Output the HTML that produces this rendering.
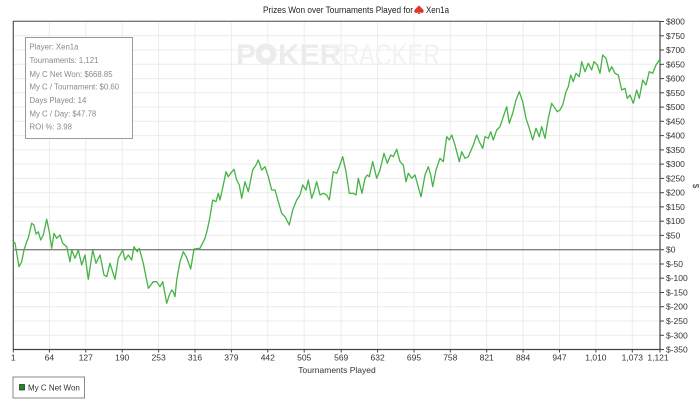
<!DOCTYPE html>
<html><head><meta charset="utf-8"><style>
html,body{margin:0;padding:0;background:#fff;}
svg{display:block;font-family:"Liberation Sans",Arial,sans-serif;}
</style></head><body>
<svg width="700" height="407" viewBox="0 0 700 407" xmlns="http://www.w3.org/2000/svg">
<rect width="700" height="407" fill="#fff"/>
<!-- title -->
<text x="263" y="13" font-size="9.6" fill="#222" textLength="150" lengthAdjust="spacingAndGlyphs">Prizes Won over Tournaments Played for</text>
<path d="M419,5.5 C416,8.5 413.5,10 414.5,12 C415.5,13.5 417.5,13 418.5,12 L417.8,14 L420.2,14 L419.5,12 C420.5,13 422.5,13.5 423.5,12 C424.5,10 422,8.5 419,5.5 Z" fill="#d83a2a"/>
<text x="426" y="13" font-size="9.6" fill="#222" textLength="23" lengthAdjust="spacingAndGlyphs">Xen1a</text>
<!-- gridlines -->
<g stroke="#ececec" stroke-width="1">
<line x1="13" x2="660" y1="35.8" y2="35.8"/><line x1="13" x2="660" y1="50" y2="50"/><line x1="13" x2="660" y1="64.3" y2="64.3"/><line x1="13" x2="660" y1="78.6" y2="78.6"/><line x1="13" x2="660" y1="92.8" y2="92.8"/><line x1="13" x2="660" y1="107.1" y2="107.1"/><line x1="13" x2="660" y1="121.3" y2="121.3"/><line x1="13" x2="660" y1="135.6" y2="135.6"/><line x1="13" x2="660" y1="149.9" y2="149.9"/><line x1="13" x2="660" y1="164.1" y2="164.1"/><line x1="13" x2="660" y1="178.4" y2="178.4"/><line x1="13" x2="660" y1="192.7" y2="192.7"/><line x1="13" x2="660" y1="206.9" y2="206.9"/><line x1="13" x2="660" y1="221.2" y2="221.2"/><line x1="13" x2="660" y1="235.4" y2="235.4"/><line x1="13" x2="660" y1="264" y2="264"/><line x1="13" x2="660" y1="278.2" y2="278.2"/><line x1="13" x2="660" y1="292.5" y2="292.5"/><line x1="13" x2="660" y1="306.7" y2="306.7"/><line x1="13" x2="660" y1="321" y2="321"/><line x1="13" x2="660" y1="335.3" y2="335.3"/>
<line y1="21" y2="349.5" x1="49.4" x2="49.4"/><line y1="21" y2="349.5" x1="85.8" x2="85.8"/><line y1="21" y2="349.5" x1="122.2" x2="122.2"/><line y1="21" y2="349.5" x1="158.6" x2="158.6"/><line y1="21" y2="349.5" x1="195" x2="195"/><line y1="21" y2="349.5" x1="231.4" x2="231.4"/><line y1="21" y2="349.5" x1="267.8" x2="267.8"/><line y1="21" y2="349.5" x1="304.2" x2="304.2"/><line y1="21" y2="349.5" x1="341.2" x2="341.2"/><line y1="21" y2="349.5" x1="377.6" x2="377.6"/><line y1="21" y2="349.5" x1="414" x2="414"/><line y1="21" y2="349.5" x1="450.3" x2="450.3"/><line y1="21" y2="349.5" x1="486.7" x2="486.7"/><line y1="21" y2="349.5" x1="523.1" x2="523.1"/><line y1="21" y2="349.5" x1="559.5" x2="559.5"/><line y1="21" y2="349.5" x1="595.9" x2="595.9"/><line y1="21" y2="349.5" x1="632.3" x2="632.3"/>
</g>
<!-- watermark -->
<text x="236" y="65" font-size="30" font-weight="bold" fill="#ececec">P</text>
<circle cx="266" cy="54" r="10.5" fill="#ececec"/>
<circle cx="266" cy="54" r="4.5" fill="#fff"/>
<text x="278" y="65" font-size="30" font-weight="bold" fill="#ececec">KER</text>
<text x="328" y="65" font-size="30" fill="#f2f2f2" textLength="112" lengthAdjust="spacingAndGlyphs">TRACKER</text>
<!-- frame -->
<line x1="13" y1="21.3" x2="660" y2="21.3" stroke="#777" stroke-width="1.3"/>
<line x1="13.3" y1="21" x2="13.3" y2="349.5" stroke="#555" stroke-width="1.2"/>
<line x1="13" y1="349.5" x2="660" y2="349.5" stroke="#444" stroke-width="1.2"/>
<line x1="660" y1="21" x2="660" y2="349.5" stroke="#444" stroke-width="1.2"/>
<!-- zero line -->
<line x1="13" y1="249.7" x2="660" y2="249.7" stroke="#808080" stroke-width="1.3"/>
<!-- stats box -->
<rect x="25.5" y="37.5" width="107" height="101" fill="#fff" fill-opacity="0.9" stroke="#9a9a9a" stroke-width="1"/>
<g font-size="7.8" fill="#8a8a8a">
<text x="29.5" y="49.5">Player: Xen1a</text>
<text x="29.5" y="63.2">Tournaments: 1,121</text>
<text x="29.5" y="77">My C Net Won: $668.85</text>
<text x="29.5" y="89.5">My C / Tournament: $0.60</text>
<text x="29.5" y="103">Days Played: 14</text>
<text x="29.5" y="116.3">My C / Day: $47.78</text>
<text x="29.5" y="129.5">ROI %: 3.98</text>
</g>
<!-- data -->
<polyline fill="none" stroke="#45b345" stroke-width="1.3" stroke-linejoin="round" points="13.3,241.7 15,243 19,266.7 21.7,261.7 24,250 26.7,241.7 28.3,238 31.7,223.3 34,225 36,234 38.3,231.7 40.7,240 43.3,235 46.7,219.3 49.3,231.7 51.7,248.3 54,233.3 56.7,238.3 60,235 62.7,243.3 66.7,246.7 70,261.7 71.7,250 75,258.3 78.3,250 81.7,265 85,255 88.3,279.3 92.7,250 96,263.3 100,255 104,275 106.7,276.7 110,263.3 115,279.3 118.3,258.3 122.7,250 125,260 128.3,255 131.7,260 134,246.7 137.3,251.7 139.3,248.3 143.3,263.3 148.3,288.3 153.3,281.7 156.7,281.7 160,286.7 162.7,281.7 166.7,303.3 169.3,295 171.7,290 173.3,291.7 175,296.7 176.7,280 180,261.7 183.3,251.7 186.7,257.5 190.7,269 194,249 200,248.3 205,238.3 207.3,230 210,216.7 212.7,200 216,201.7 218.3,193.3 220,200 223.3,185 226,171.7 228.3,176.7 230.7,173.3 234,169.3 236.7,180 239.3,185 241.7,198.3 245,181.7 248.3,191.7 252.7,170 256,165 258.3,160 261.7,170 265,166.7 268.3,176.7 271.7,190 275,190 278.3,201.7 281.7,213.3 285,216.7 289.3,225 292.7,210 296.7,200 300,195 302.7,185 306,190 308.3,180 311.7,198.3 314,191.7 316.7,181.7 320,195 323.3,193.3 326.7,195 329.3,200 333.3,171.7 336.7,173.3 339.3,166.7 342.7,156.7 346,171.7 349.3,193.3 353.3,193.3 356,195 358.3,178.3 362,193.3 365,178.3 367.3,175 369.3,176.7 372.7,161.7 376.7,178.3 380,170 384,153.3 387.3,163.3 390.7,155 393.3,156.7 396.7,149.3 400,161.7 403.3,165 406,181.7 408.3,173.3 411.7,178.3 415,175 417.3,183.3 421,196.7 425,175 428.3,166.7 430.7,175 432.7,186.7 436,170 440,158.3 443.3,161.7 446.7,136.7 449.3,140 451.7,135 455,145 459.3,161.7 461.7,151.7 465,158.3 468.3,156.7 473.3,145 476.7,135 479.3,141.7 482.7,148.3 485,136.7 488.3,138.3 490.7,131.7 493.3,140 496.7,130 500,126.7 503.3,116.7 506.7,106.7 509.3,123.3 512.7,113.3 516,100 519.3,91.7 522.7,101.7 526,118.3 529.3,128.3 532.7,140 536,128.3 539.3,136.7 541.7,126.7 545,138.3 548.3,118.3 551.7,103.3 555,108.3 557.3,111.7 560,110 562.7,105 566,91.7 568.3,86.7 570.7,75 573.3,81.7 576,73.3 579.3,76.7 581.7,61.7 585,71.7 588.3,63.3 591.7,70 594,61.7 597.3,65 600,73.3 602.7,55 606,58.3 609.3,71.7 611.7,66.7 615,73.3 618.3,75 621.7,90 625,88.3 627.3,98.3 630,95 633.3,103.3 636.7,90 639.3,98.3 642.7,80 646,85 649.3,71.7 652.7,73.3 656,65 659.3,60 660,64"/>
<!-- y ticks and labels -->
<g stroke="#444" stroke-width="1">
<line x1="660" x2="664" y1="21.5" y2="21.5"/><line x1="660" x2="664" y1="35.8" y2="35.8"/><line x1="660" x2="664" y1="50" y2="50"/><line x1="660" x2="664" y1="64.3" y2="64.3"/><line x1="660" x2="664" y1="78.6" y2="78.6"/><line x1="660" x2="664" y1="92.8" y2="92.8"/><line x1="660" x2="664" y1="107.1" y2="107.1"/><line x1="660" x2="664" y1="121.3" y2="121.3"/><line x1="660" x2="664" y1="135.6" y2="135.6"/><line x1="660" x2="664" y1="149.9" y2="149.9"/><line x1="660" x2="664" y1="164.1" y2="164.1"/><line x1="660" x2="664" y1="178.4" y2="178.4"/><line x1="660" x2="664" y1="192.7" y2="192.7"/><line x1="660" x2="664" y1="206.9" y2="206.9"/><line x1="660" x2="664" y1="221.2" y2="221.2"/><line x1="660" x2="664" y1="235.4" y2="235.4"/><line x1="660" x2="664" y1="249.7" y2="249.7"/><line x1="660" x2="664" y1="264" y2="264"/><line x1="660" x2="664" y1="278.2" y2="278.2"/><line x1="660" x2="664" y1="292.5" y2="292.5"/><line x1="660" x2="664" y1="306.7" y2="306.7"/><line x1="660" x2="664" y1="321" y2="321"/><line x1="660" x2="664" y1="335.3" y2="335.3"/><line x1="660" x2="664" y1="349.5" y2="349.5"/>
</g>
<g font-size="8.5" fill="#333" dominant-baseline="central">
<text x="666" y="21.5">$800</text><text x="666" y="35.8">$750</text><text x="666" y="50">$700</text><text x="666" y="64.3">$650</text><text x="666" y="78.6">$600</text><text x="666" y="92.8">$550</text><text x="666" y="107.1">$500</text><text x="666" y="121.3">$450</text><text x="666" y="135.6">$400</text><text x="666" y="149.9">$350</text><text x="666" y="164.1">$300</text><text x="666" y="178.4">$250</text><text x="666" y="192.7">$200</text><text x="666" y="206.9">$150</text><text x="666" y="221.2">$100</text><text x="666" y="235.4">$50</text><text x="666" y="249.7">$0</text><text x="666" y="264">$-50</text><text x="666" y="278.2">$-100</text><text x="666" y="292.5">$-150</text><text x="666" y="306.7">$-200</text><text x="666" y="321">$-250</text><text x="666" y="335.3">$-300</text><text x="666" y="349.5">$-350</text>
</g>
<text x="0" y="0" font-size="8" fill="#333" transform="translate(693,186) rotate(90)" text-anchor="middle">$</text>
<!-- x ticks -->
<g stroke="#444" stroke-width="1">
<line y1="349.5" y2="352.5" x1="13.3" x2="13.3"/><line y1="349.5" y2="352.5" x1="49.4" x2="49.4"/><line y1="349.5" y2="352.5" x1="85.8" x2="85.8"/><line y1="349.5" y2="352.5" x1="122.2" x2="122.2"/><line y1="349.5" y2="352.5" x1="158.6" x2="158.6"/><line y1="349.5" y2="352.5" x1="195" x2="195"/><line y1="349.5" y2="352.5" x1="231.4" x2="231.4"/><line y1="349.5" y2="352.5" x1="267.8" x2="267.8"/><line y1="349.5" y2="352.5" x1="304.2" x2="304.2"/><line y1="349.5" y2="352.5" x1="341.2" x2="341.2"/><line y1="349.5" y2="352.5" x1="377.6" x2="377.6"/><line y1="349.5" y2="352.5" x1="414" x2="414"/><line y1="349.5" y2="352.5" x1="450.3" x2="450.3"/><line y1="349.5" y2="352.5" x1="486.7" x2="486.7"/><line y1="349.5" y2="352.5" x1="523.1" x2="523.1"/><line y1="349.5" y2="352.5" x1="559.5" x2="559.5"/><line y1="349.5" y2="352.5" x1="595.9" x2="595.9"/><line y1="349.5" y2="352.5" x1="632.3" x2="632.3"/><line y1="349.5" y2="352.5" x1="660" x2="660"/>
</g>
<g font-size="8.5" fill="#333" text-anchor="middle">
<text x="13.3" y="360.5">1</text><text x="49.4" y="360.5">64</text><text x="85.8" y="360.5">127</text><text x="122.2" y="360.5">190</text><text x="158.6" y="360.5">253</text><text x="195" y="360.5">316</text><text x="231.4" y="360.5">379</text><text x="267.8" y="360.5">442</text><text x="304.2" y="360.5">505</text><text x="341.2" y="360.5">569</text><text x="377.6" y="360.5">632</text><text x="414" y="360.5">695</text><text x="450.3" y="360.5">758</text><text x="486.7" y="360.5">821</text><text x="523.1" y="360.5">884</text><text x="559.5" y="360.5">947</text><text x="595.9" y="360.5">1,010</text><text x="632.3" y="360.5">1,073</text><text x="658" y="360.5">1,121</text>
<text x="337" y="373">Tournaments Played</text>
</g>
<!-- legend -->
<rect x="13" y="377" width="71.5" height="21" fill="#fff" stroke="#8a8a8a" stroke-width="1"/>
<rect x="19.5" y="384.5" width="5" height="5.5" fill="#1a8a1a" stroke="#222" stroke-width="0.7"/>
<text x="28" y="390.5" font-size="8" fill="#333">My C Net Won</text>
</svg>
</body></html>
